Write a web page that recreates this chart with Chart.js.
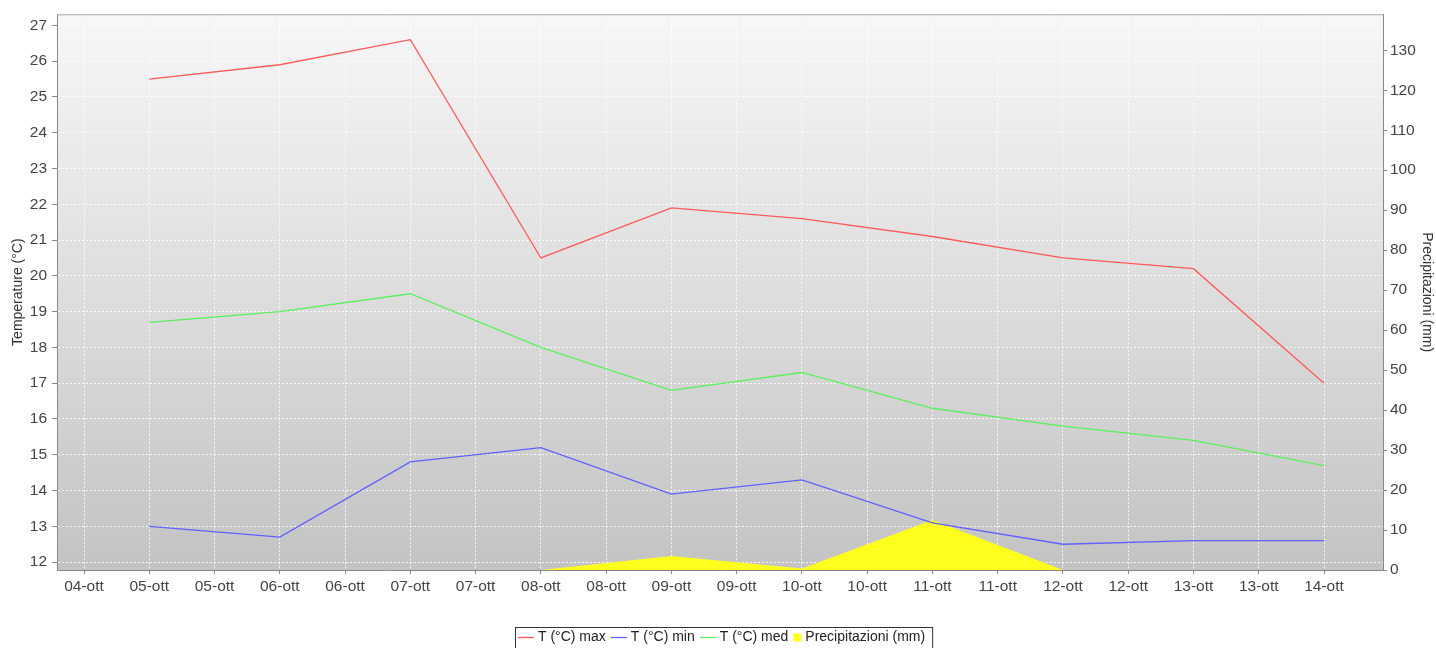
<!DOCTYPE html>
<html><head><meta charset="utf-8">
<script src="https://cdn.jsdelivr.net/npm/chart.js@4.4.0/dist/chart.umd.min.js"></script>
<style>html,body{margin:0;padding:0;background:#fff;}#wrap{width:1436px;height:648px;}</style>
</head><body><div id="wrap"><canvas id="c" width="1436" height="648"></canvas></div>
<script>
// ---- data ----
const dates = ['05-ott','06-ott','07-ott','08-ott','09-ott','10-ott','11-ott','12-ott','13-ott','14-ott'];
const tMax  = [25.5, 25.9, 26.6, 20.5, 21.9, 21.6, 21.1, 20.5, 20.2, 17.0];
const tMin  = [13.0, 12.7, 14.8, 15.2, 13.9, 14.3, 13.1, 12.5, 12.6, 12.6];
const tMed  = [18.7, 19.0, 19.5, 18.0, 16.8, 17.3, 16.3, 15.8, 15.4, 14.7];
const precip = [0, 0, 0, 0, 3.5, 0.4, 12.5, 0, 0, 0];
const xTickLabels = ['04-ott','05-ott','05-ott','06-ott','06-ott','07-ott','07-ott','08-ott','08-ott','09-ott',
  '09-ott','10-ott','10-ott','11-ott','11-ott','12-ott','12-ott','13-ott','13-ott','14-ott'];
const tempTicks = [12,13,14,15,16,17,18,19,20,21,22,23,24,25,26,27];
const rainTicks = [0,10,20,30,40,50,60,70,80,90,100,110,120,130];
const seriesNames = ['T (°C) max','T (°C) min','T (°C) med','Precipitazioni (mm)'];

// day offset from 04-ott 00:00
const dayPos = d => parseInt(d.slice(0,2),10) - 4;
const pts = arr => arr.map((v,i)=>({x: dayPos(dates[i]), y: v}));

const colors = ['#ff5a5a','#6060ff','#5cf05c','#ffff1e'];
const FONT = '"Liberation Sans", Arial, sans-serif';

const bgPlugin = {
  id: 'bg',
  beforeDraw(chart) {
    const {ctx, chartArea: a} = chart;
    ctx.save();
    ctx.fillStyle = '#ffffff';
    ctx.fillRect(0,0,chart.width,chart.height);
    const g = ctx.createLinearGradient(0, a.top, 0, a.bottom);
    g.addColorStop(0, '#f7f7f7');
    g.addColorStop(1, '#c3c3c3');
    ctx.fillStyle = g;
    ctx.fillRect(a.left, a.top, a.right - a.left, a.bottom - a.top);
    ctx.restore();
  },
  afterDraw(chart) {
    const {ctx, chartArea: a} = chart;
    ctx.save();
    ctx.strokeStyle = '#aaaaaa';
    ctx.lineWidth = 1;
    ctx.beginPath();
    ctx.moveTo(a.left, a.top + 0.5);
    ctx.lineTo(a.right, a.top + 0.5);
    ctx.stroke();
    // legend
    ctx.font = '14px ' + FONT;
    ctx.textBaseline = 'middle';
    const symW = 16, gap1 = 4, gap2 = 5, padL = 3, padR = 7;
    const widths = seriesNames.map(s => ctx.measureText(s).width);
    let total = padL + padR;
    seriesNames.forEach((s,i) => { total += (i===3 ? 8 : symW) + gap1 + widths[i] + (i<3 ? gap2 : 0); });
    const cx = 724;
    const left = Math.round(cx - total/2);
    const top = 627, h = 22;
    ctx.fillStyle = '#ffffff';
    ctx.fillRect(left, top, total, h);
    ctx.strokeStyle = '#333';
    ctx.lineWidth = 1;
    ctx.strokeRect(left + 0.5, top + 0.5, total, h);
    let x = left + padL;
    const cy = 637.5;
    seriesNames.forEach((s,i) => {
      if (i < 3) {
        ctx.strokeStyle = colors[i];
        ctx.lineWidth = 1.3;
        ctx.beginPath(); ctx.moveTo(x, cy); ctx.lineTo(x + symW, cy); ctx.stroke();
        x += symW;
      } else {
        ctx.fillStyle = colors[3];
        ctx.fillRect(x, cy - 4, 8, 8);
        x += 8;
      }
      x += gap1;
      ctx.fillStyle = '#222';
      ctx.fillText(s, x, cy);
      x += widths[i] + gap2;
    });
    ctx.restore();
  }
};

const tickFont = {family: FONT, size: 15.5};
const titleFont = {family: FONT, size: 14};

new Chart(document.getElementById('c'), {
  type: 'line',
  data: {
    datasets: [
      {label: seriesNames[0], data: pts(tMax), borderColor: colors[0], borderWidth: 1.3, pointRadius: 0, yAxisID: 'y', order: 1, tension: 0},
      {label: seriesNames[1], data: pts(tMin), borderColor: colors[1], borderWidth: 1.3, pointRadius: 0, yAxisID: 'y', order: 2, tension: 0},
      {label: seriesNames[2], data: pts(tMed), borderColor: colors[2], borderWidth: 1.3, pointRadius: 0, yAxisID: 'y', order: 3, tension: 0},
      {label: seriesNames[3], data: pts(precip), borderColor: 'rgba(0,0,0,0)', borderWidth: 0, backgroundColor: colors[3], fill: 'origin', pointRadius: 0, yAxisID: 'y2', order: 10, tension: 0}
    ]
  },
  options: {
    responsive: false,
    devicePixelRatio: 1,
    animation: false,
    layout: {padding: {top: 14, left: 0, right: 0, bottom: 0}},
    plugins: {legend: {display: false}, tooltip: {enabled: false}},
    scales: {
      x: {
        type: 'linear',
        min: 0.293, max: 10.452,
        afterBuildTicks: ax => { ax.ticks = xTickLabels.map((l,i)=>({value: 0.5 + 0.5*i})); },
        afterFit: ax => { ax.height = 78; },
        ticks: {autoSkip: false, maxRotation: 0, padding: 3, color: '#444', font: tickFont,
          callback: (v, i) => xTickLabels[i]},
        grid: {color: 'rgba(255,255,255,0.85)', lineWidth: 1, tickLength: 4, tickColor: '#888'},
        border: {color: '#888', width: 1, dash: [2,2]}
      },
      y: {
        type: 'linear', position: 'left',
        min: 11.78, max: 27.31,
        afterBuildTicks: ax => { ax.ticks = tempTicks.map(v=>({value: v})); },
        afterFit: ax => { ax.width = 57; },
        ticks: {color: '#444', font: tickFont, padding: 5, callback: v => String(v)},
        grid: {color: 'rgba(255,255,255,0.85)', lineWidth: 1, tickLength: 5, tickColor: '#888'},
        border: {color: '#888', width: 1, dash: [2,2]},
        title: {display: true, text: 'Temperature (°C)', color: '#333', font: titleFont, padding: {top: 10, bottom: 0}}
      },
      y2: {
        type: 'linear', position: 'right',
        min: 0, max: 139,
        afterBuildTicks: ax => { ax.ticks = rainTicks.map(v=>({value: v})); },
        afterFit: ax => { ax.width = 53; },
        ticks: {color: '#444', font: tickFont, padding: 3, callback: v => String(v)},
        grid: {drawOnChartArea: false, tickLength: 4, tickColor: '#888'},
        border: {color: '#888', width: 1},
        title: {display: true, text: 'Precipitazioni (mm)', color: '#333', font: titleFont, padding: {top: 1, bottom: 0}}
      }
    }
  },
  plugins: [bgPlugin]
});
</script></body></html>
